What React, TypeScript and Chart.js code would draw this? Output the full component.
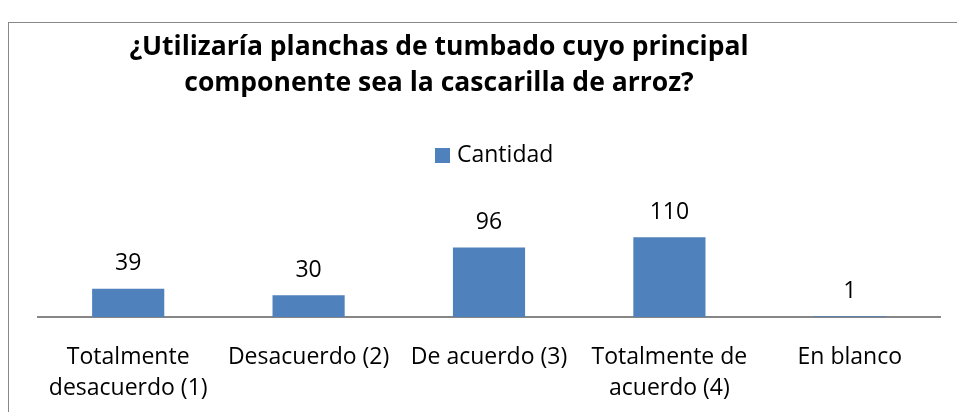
import React, { useEffect, useRef } from "react";
import { Chart, registerables } from "chart.js";

Chart.register(...registerables);

const categories: (string | string[])[] = [
  ["Totalmente", "desacuerdo (1)"],
  "Desacuerdo (2)",
  "De acuerdo (3)",
  ["Totalmente de", "acuerdo (4)"],
  "En blanco",
];
const seriesName = "Cantidad";
const cantidad = [39, 30, 96, 110, 1];
const titleLines = [
  "¿Utilizaría planchas de tumbado cuyo principal",
  "componente sea la cascarilla de arroz?",
];

const FONT = "'Open Sans', sans-serif";
const BAR = "#4F81BD";

export default function App() {
  const ref = useRef<HTMLCanvasElement | null>(null);
  useEffect(() => {
    document.body.style.overflow = "hidden";
    const canvas = ref.current!;
    const overlay = {
      id: "overlay",
      afterDatasetsDraw(chart: any) {
        const ctx = chart.ctx;
        ctx.save();
        // title
        ctx.fillStyle = "#000";
        ctx.textAlign = "center";
        ctx.textBaseline = "middle";
        ctx.font = `bold 26.5px ${FONT}`;
        titleLines.forEach((t, i) => ctx.fillText(t, 430, 24 + i * 36));
        // legend
        ctx.fillStyle = BAR;
        ctx.fillRect(426, 125, 15, 15);
        ctx.fillStyle = "#000";
        ctx.textAlign = "left";
        ctx.font = `23px ${FONT}`;
        ctx.fillText(seriesName, 448, 132);
        // data labels
        ctx.textAlign = "center";
        ctx.font = `23px ${FONT}`;
        const meta = chart.getDatasetMeta(0);
        meta.data.forEach((el: any, i: number) => {
          ctx.fillText(String(cantidad[i]), el.x, el.y - 25);
        });
        ctx.restore();
      },
    };
    const chart = new Chart(canvas, {
      type: "bar",
      data: {
        labels: categories,
        datasets: [
          {
            label: seriesName,
            data: cantidad,
            backgroundColor: BAR,
            categoryPercentage: 1,
            barPercentage: 0.4,
          },
        ],
      },
      options: {
        animation: false,
        responsive: false,
        layout: { padding: { left: 29, right: 17, top: 207, bottom: 0 } },
        plugins: {
          legend: { display: false },
          title: { display: false },
          tooltip: { enabled: false },
        },
        scales: {
          y: { display: false, min: 0, max: 120 },
          x: {
            grid: { display: false, drawTicks: false },
            border: { display: true, color: "#868686", width: 2 },
            ticks: {
              color: "#000",
              font: { family: FONT, size: 23, lineHeight: 1.34 },
              padding: 25,
              maxRotation: 0,
              autoSkip: false,
            },
            afterFit: (scale: any) => {
              scale.height = 87;
            },
          },
        },
      },
      plugins: [overlay],
    });
    return () => chart.destroy();
  }, []);
  return (
    <div
      style={{
        position: "absolute",
        left: 8,
        top: 22,
        width: 980,
        height: 430,
        border: "1px solid #888888",
        background: "#fff",
      }}
    >
      <canvas ref={ref} width={948} height={381} style={{ display: "block" }} />
    </div>
  );
}
